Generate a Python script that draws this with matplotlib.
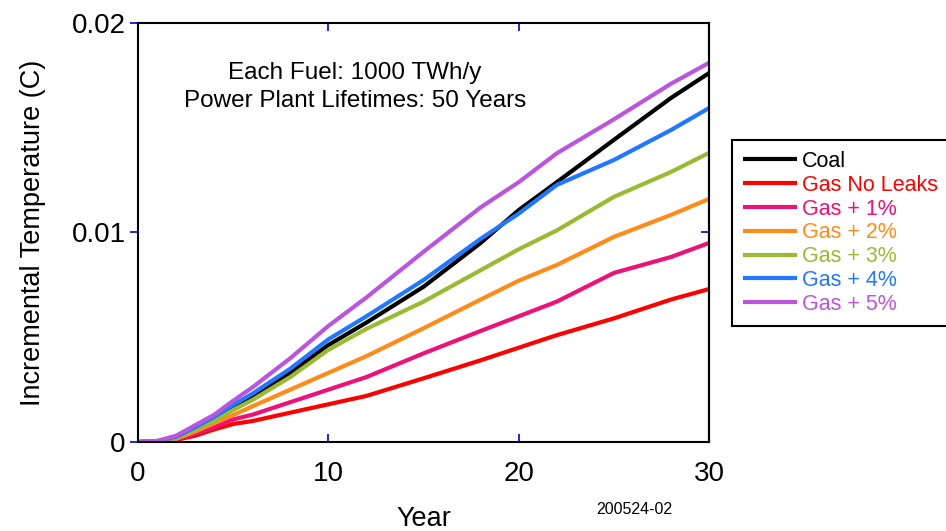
import numpy as np
import matplotlib
matplotlib.use("Agg")
import matplotlib.pyplot as plt

plt.rcParams['font.family'] = ['Liberation Sans', 'DejaVu Sans']

# === data ===
years = [0, 1, 2, 3, 4, 5, 6, 8, 10, 12, 15, 18, 20, 22, 25, 28, 30]

coal = [0, 0.00003, 0.0002, 0.0006, 0.0011, 0.00165, 0.0022, 0.0033, 0.00463, 0.0057,
        0.00741, 0.0095, 0.01107, 0.0124, 0.01442, 0.01642, 0.01761]
gas_no_leaks = [0, 0.00001, 0.0001, 0.0003, 0.0006, 0.00086, 0.0010, 0.0014, 0.0018, 0.0022,
                0.00304, 0.0039, 0.0045, 0.0051, 0.0059, 0.0068, 0.0073]
gas_1 = [0, 0.00002, 0.00012, 0.0004, 0.0007, 0.00108, 0.0013, 0.0019, 0.0025, 0.0031,
         0.00423, 0.0053, 0.0060, 0.0067, 0.00807, 0.00883, 0.0095]
gas_2 = [0, 0.00002, 0.00015, 0.0005, 0.0009, 0.00129, 0.0017, 0.0025, 0.0033, 0.0041,
         0.00543, 0.0068, 0.0077, 0.00845, 0.00979, 0.01084, 0.0116]
gas_3 = [0, 0.00003, 0.0002, 0.0006, 0.0010, 0.00153, 0.0020, 0.0031, 0.0044, 0.0054,
         0.0067, 0.0082, 0.0092, 0.0101, 0.0117, 0.01289, 0.0138]
gas_4 = [0, 0.00004, 0.00025, 0.0007, 0.0012, 0.00177, 0.0023, 0.0035, 0.0049, 0.0060,
         0.00773, 0.0097, 0.0109, 0.01227, 0.01346, 0.01489, 0.01594]
gas_5 = [0, 0.00005, 0.0003, 0.0008, 0.0013, 0.00197, 0.0026, 0.0040, 0.00554, 0.0069,
         0.00908, 0.0112, 0.0124, 0.01378, 0.0154, 0.0171, 0.0181]

series = [
    ("Coal", coal, "#000000"),
    ("Gas No Leaks", gas_no_leaks, "#ff0000"),
    ("Gas + 1%", gas_1, "#ee1177"),
    ("Gas + 2%", gas_2, "#ff8c1a"),
    ("Gas + 3%", gas_3, "#99bb33"),
    ("Gas + 4%", gas_4, "#2277ff"),
    ("Gas + 5%", gas_5, "#bb55dd"),
]

fig = plt.figure(figsize=(9.46, 5.31), dpi=100)
ax = fig.add_axes([0.1459, 0.1676, 0.6036, 0.7891])

for name, vals, col in series:
    ax.plot(years, vals, color=col, lw=3, label=name, solid_capstyle='butt')

ax.set_xlim(0, 30)
ax.set_ylim(0, 0.02)
ax.set_xticks([0, 10, 20, 30])
ax.set_xticklabels(["0", "10", "20", "30"])
ax.set_yticks([0, 0.01, 0.02])
ax.set_yticklabels(["0", "0.01", "0.02"])

for s in ax.spines.values():
    s.set_linewidth(1.5)
    s.set_color("black")

# x ticks point inward (top and bottom), left y ticks point outward
ax.tick_params(axis='x', direction='in', top=True, length=6, width=1.2,
               color='#0000cc', labelsize=20, pad=14)
ax.tick_params(axis='y', direction='out', length=6, width=1.2,
               color='#0000cc', labelsize=20, pad=3)
sec = ax.secondary_yaxis('right')
sec.set_yticks([0, 0.01, 0.02])
sec.tick_params(direction='in', length=6, width=1.2, color='#0000cc', labelright=False)
sec.spines['right'].set_linewidth(1.5)

ax.set_xlabel("Year", fontsize=19.5, labelpad=13)
ax.set_ylabel("Incremental Temperature (C)", fontsize=19.5, labelpad=18)

ax.text(0.38, 0.88, "Each Fuel: 1000 TWh/y", transform=ax.transAxes,
        ha='center', va='center', fontsize=17.5)
ax.text(0.38, 0.814, "Power Plant Lifetimes: 50 Years", transform=ax.transAxes,
        ha='center', va='center', fontsize=17.5)

fig.text(0.671, 0.04, "200524-02", ha='center', va='center', fontsize=11.5)

leg = fig.legend(loc='upper left', bbox_to_anchor=(0.774, 0.736), fontsize=15.5,
                 handlelength=2.5, handletextpad=0.25, borderpad=0.5,
                 labelspacing=0.13, borderaxespad=0, fancybox=False, framealpha=1,
                 edgecolor='black')
leg.get_frame().set_linewidth(1.5)
for txt, (_, _, col) in zip(leg.get_texts(), series):
    txt.set_color(col)

fig.savefig("out.png", dpi=100)
